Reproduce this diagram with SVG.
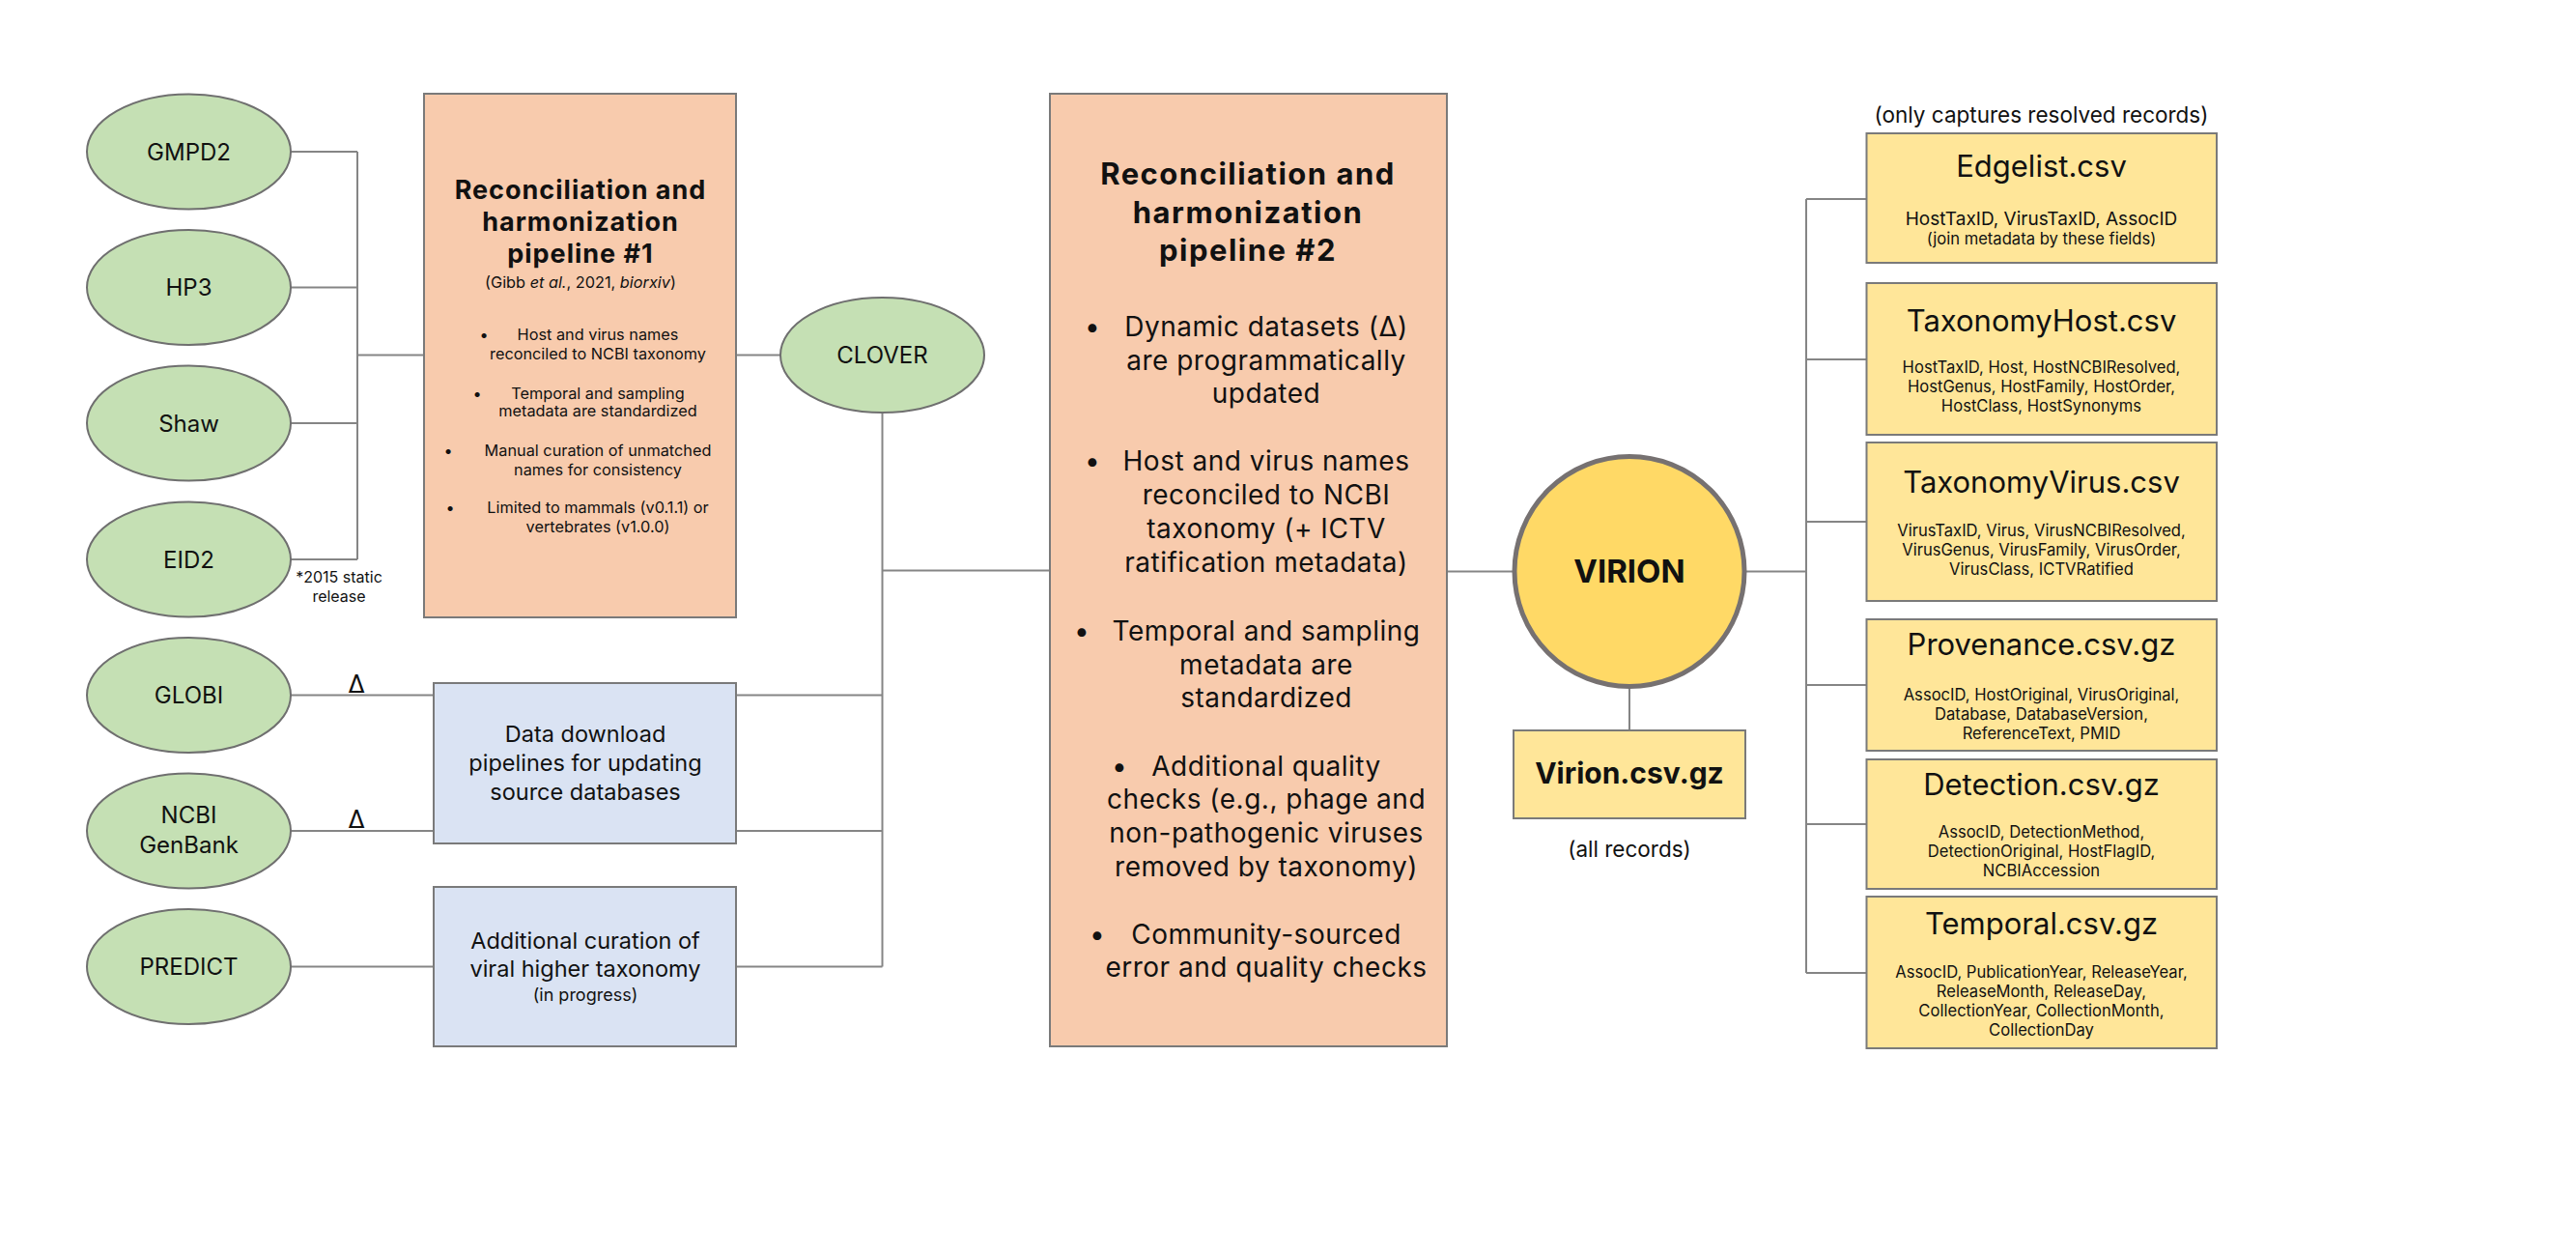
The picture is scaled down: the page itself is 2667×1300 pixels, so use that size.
<svg xmlns="http://www.w3.org/2000/svg" width="2667" height="1300" viewBox="0 0 2667 1300">
<style>
text{font-family:Inter,"Noto Sans","Liberation Sans",sans-serif;fill:#111;text-anchor:middle}
.src{fill:#c5e0b4;stroke:#6f6f6f;stroke-width:2}
.orange{fill:#f8cbad;stroke:#7a7a7a;stroke-width:2}
.blue{fill:#dae3f3;stroke:#7a7a7a;stroke-width:2}
.file{fill:#ffe699;stroke:#7a7a7a;stroke-width:2}
.conn{fill:none;stroke:#858585;stroke-width:2}
.el{font-size:24px}
.t1{font-size:27px;font-weight:700;letter-spacing:1px}
.b1{font-size:16.3px}
.t2{font-size:31px;font-weight:700;letter-spacing:1.5px}
.b2{font-size:28px;letter-spacing:0.5px}
.bx{font-size:23.5px}
.ft{font-size:31px}
.fd{font-size:16.6px}
.sm{font-size:16px}
.note{font-size:22.5px}
</style>
<rect width="2667" height="1300" fill="#ffffff"/>
<g id="connectors" class="conn">
<path d="M301,157H370M301,297.5H370M301,438H370M301,579H370M370,157V579M370,367.5H439"/>
<path d="M762,367.5H808"/>
<path d="M301,719.5H449M301,860H449M301,1000.5H449"/>
<path d="M913.5,427V1000.5M762,719.5H913.5M762,860H913.5M762,1000.5H913.5M913.5,590.5H1087"/>
<path d="M1498,591.5H1567"/>
<path d="M1807,591.5H1870M1870,206V1007"/>
<path d="M1870,206H1932.5M1870,372H1932.5M1870,540H1932.5M1870,709H1932.5M1870,853H1932.5M1870,1007H1932.5"/>
<path d="M1687,712V756"/>
</g>
<g id="gmpd2"><ellipse class="src" cx="195.5" cy="157" rx="105.5" ry="59.5"/><text class="el" x="195.5" y="165.5">GMPD2</text></g>
<g id="hp3"><ellipse class="src" cx="195.5" cy="297.5" rx="105.5" ry="59.5"/><text class="el" x="195.5" y="306">HP3</text></g>
<g id="shaw"><ellipse class="src" cx="195.5" cy="438" rx="105.5" ry="59.5"/><text class="el" x="195.5" y="446.5">Shaw</text></g>
<g id="eid2"><ellipse class="src" cx="195.5" cy="579" rx="105.5" ry="59.5"/><text class="el" x="195.5" y="587.5">EID2</text>
<text class="sm" x="351" y="603">*2015 static</text><text class="sm" x="351" y="623">release</text></g>
<g id="globi"><ellipse class="src" cx="195.5" cy="719.5" rx="105.5" ry="59.5"/><text class="el" x="195.5" y="728">GLOBI</text>
<text x="369" y="717" style="font-size:26px">Δ</text></g>
<g id="ncbi"><ellipse class="src" cx="195.5" cy="860" rx="105.5" ry="59.5"/><text class="el" x="195.5" y="852">NCBI</text><text class="el" x="195.5" y="883">GenBank</text>
<text x="369" y="857" style="font-size:26px">Δ</text></g>
<g id="predict"><ellipse class="src" cx="195.5" cy="1000.5" rx="105.5" ry="59.5"/><text class="el" x="195.5" y="1008.5">PREDICT</text></g>
<g id="pipeline1">
<rect class="orange" x="439" y="97" width="323" height="542"/>
<text class="t1" x="601" y="206">Reconciliation and</text>
<text class="t1" x="601" y="239">harmonization</text>
<text class="t1" x="601" y="272">pipeline #1</text>
<text class="b1" x="601" y="298">(Gibb <tspan font-style="italic">et al.</tspan>, 2021, <tspan font-style="italic">biorxiv</tspan>)</text>
<text class="b1" x="501" y="352">•</text>
<text class="b1" x="619" y="352">Host and virus names</text>
<text class="b1" x="619" y="372">reconciled to NCBI taxonomy</text>
<text class="b1" x="494" y="413">•</text>
<text class="b1" x="619" y="413">Temporal and sampling</text>
<text class="b1" x="619" y="431">metadata are standardized</text>
<text class="b1" x="464" y="472">•</text>
<text class="b1" x="619" y="472">Manual curation of unmatched</text>
<text class="b1" x="619" y="492">names for consistency</text>
<text class="b1" x="466" y="531">•</text>
<text class="b1" x="619" y="531">Limited to mammals (v0.1.1) or</text>
<text class="b1" x="619" y="551">vertebrates (v1.0.0)</text>
</g>
<g id="clover"><ellipse class="src" cx="913.5" cy="367.5" rx="105.5" ry="59.5"/><text class="el" x="913.5" y="376">CLOVER</text></g>
<g id="download">
<rect class="blue" x="449" y="707" width="313" height="166"/>
<text class="bx" x="606" y="768">Data download</text>
<text class="bx" x="606" y="798">pipelines for updating</text>
<text class="bx" x="606" y="828">source databases</text>
</g>
<g id="curation">
<rect class="blue" x="449" y="918" width="313" height="165"/>
<text class="bx" x="606" y="982">Additional curation of</text>
<text class="bx" x="606" y="1011">viral higher taxonomy</text>
<text x="606" y="1036" style="font-size:18px">(in progress)</text>
</g>
<g id="pipeline2">
<rect class="orange" x="1087" y="97" width="411" height="986"/>
<text class="t2" x="1292" y="191">Reconciliation and</text>
<text class="t2" x="1292" y="231">harmonization</text>
<text class="t2" x="1292" y="270">pipeline #2</text>
<text class="b2" x="1131" y="348">•</text>
<text class="b2" x="1311" y="348">Dynamic datasets (Δ)</text>
<text class="b2" x="1311" y="383">are programmatically</text>
<text class="b2" x="1311" y="417">updated</text>
<text class="b2" x="1131" y="487">•</text>
<text class="b2" x="1311" y="487">Host and virus names</text>
<text class="b2" x="1311" y="522">reconciled to NCBI</text>
<text class="b2" x="1311" y="557">taxonomy (+ ICTV</text>
<text class="b2" x="1311" y="592">ratification metadata)</text>
<text class="b2" x="1120" y="663">•</text>
<text class="b2" x="1311" y="663">Temporal and sampling</text>
<text class="b2" x="1311" y="698">metadata are</text>
<text class="b2" x="1311" y="732">standardized</text>
<text class="b2" x="1159" y="803">•</text>
<text class="b2" x="1311" y="803">Additional quality</text>
<text class="b2" x="1311" y="837">checks (e.g., phage and</text>
<text class="b2" x="1311" y="872">non-pathogenic viruses</text>
<text class="b2" x="1311" y="907">removed by taxonomy)</text>
<text class="b2" x="1136" y="977">•</text>
<text class="b2" x="1311" y="977">Community-sourced</text>
<text class="b2" x="1311" y="1011">error and quality checks</text>
</g>
<g id="virion">
<circle cx="1687" cy="591.5" r="119" fill="#ffd966" stroke="#767171" stroke-width="5"/>
<text x="1687" y="603" style="font-size:33px;font-weight:700">VIRION</text>
</g>
<g id="virion-csv">
<rect class="file" x="1567" y="756" width="240" height="91"/>
<text x="1687" y="811" style="font-size:30px;font-weight:700">Virion.csv.gz</text>
<text class="note" x="1687" y="887">(all records)</text>
</g>
<text class="note" x="2113.5" y="127">(only captures resolved records)</text>
<g id="edgelist">
<rect class="file" x="1932.5" y="138" width="362.5" height="134"/>
<text class="ft" x="2113.5" y="183">Edgelist.csv</text>
<text x="2113.5" y="233" style="font-size:19px">HostTaxID, VirusTaxID, AssocID</text>
<text class="fd" x="2113.5" y="253">(join metadata by these fields)</text>
</g>
<g id="taxhost">
<rect class="file" x="1932.5" y="293" width="362.5" height="157"/>
<text class="ft" x="2113.5" y="343">TaxonomyHost.csv</text>
<text class="fd" x="2113.5" y="386">HostTaxID, Host, HostNCBIResolved,</text>
<text class="fd" x="2113.5" y="406">HostGenus, HostFamily, HostOrder,</text>
<text class="fd" x="2113.5" y="426">HostClass, HostSynonyms</text>
</g>
<g id="taxvirus">
<rect class="file" x="1932.5" y="458" width="362.5" height="164"/>
<text class="ft" x="2113.5" y="510">TaxonomyVirus.csv</text>
<text class="fd" x="2113.5" y="555">VirusTaxID, Virus, VirusNCBIResolved,</text>
<text class="fd" x="2113.5" y="575">VirusGenus, VirusFamily, VirusOrder,</text>
<text class="fd" x="2113.5" y="595">VirusClass, ICTVRatified</text>
</g>
<g id="provenance">
<rect class="file" x="1932.5" y="641" width="362.5" height="136"/>
<text class="ft" x="2113.5" y="678">Provenance.csv.gz</text>
<text class="fd" x="2113.5" y="725">AssocID, HostOriginal, VirusOriginal,</text>
<text class="fd" x="2113.5" y="745">Database, DatabaseVersion,</text>
<text class="fd" x="2113.5" y="765">ReferenceText, PMID</text>
</g>
<g id="detection">
<rect class="file" x="1932.5" y="786" width="362.5" height="134"/>
<text class="ft" x="2113.5" y="823">Detection.csv.gz</text>
<text class="fd" x="2113.5" y="867">AssocID, DetectionMethod,</text>
<text class="fd" x="2113.5" y="887">DetectionOriginal, HostFlagID,</text>
<text class="fd" x="2113.5" y="907">NCBIAccession</text>
</g>
<g id="temporal">
<rect class="file" x="1932.5" y="928" width="362.5" height="157"/>
<text class="ft" x="2113.5" y="967">Temporal.csv.gz</text>
<text class="fd" x="2113.5" y="1012">AssocID, PublicationYear, ReleaseYear,</text>
<text class="fd" x="2113.5" y="1032">ReleaseMonth, ReleaseDay,</text>
<text class="fd" x="2113.5" y="1052">CollectionYear, CollectionMonth,</text>
<text class="fd" x="2113.5" y="1072">CollectionDay</text>
</g>
</svg>
